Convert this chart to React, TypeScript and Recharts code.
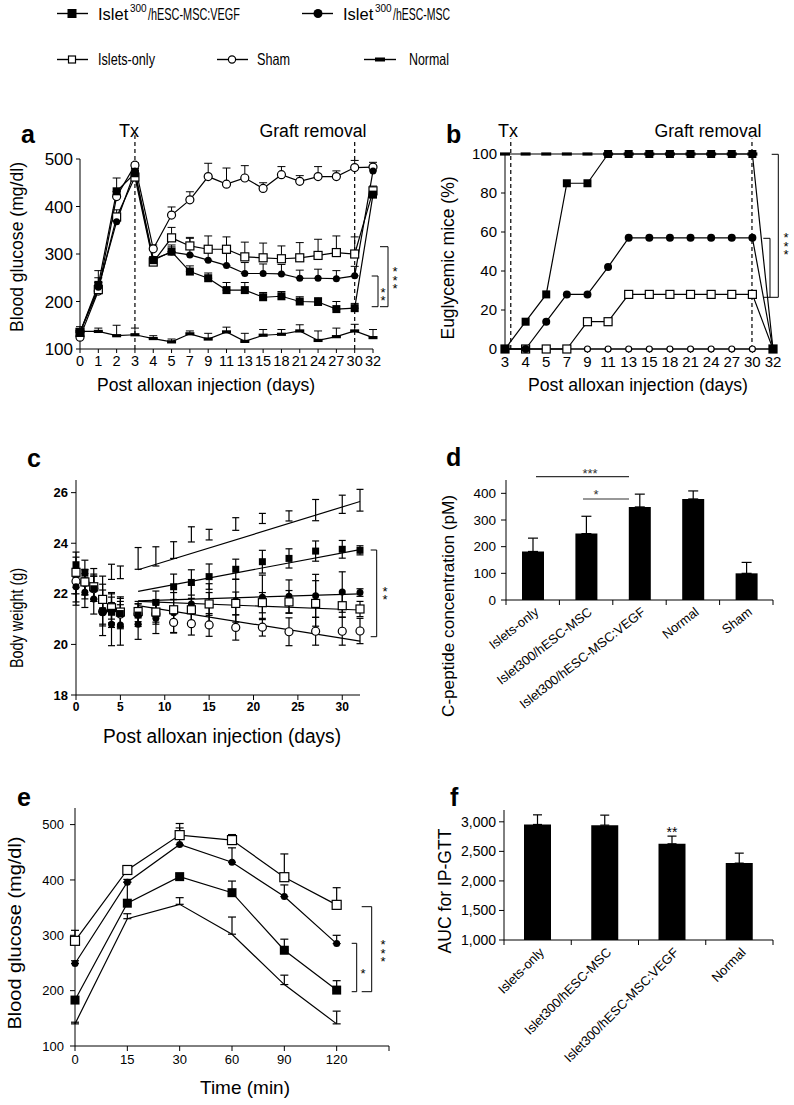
import React from 'react';
import {
  LineChart,
  Line,
  BarChart,
  Bar,
  ComposedChart,
  Scatter,
  XAxis,
  YAxis,
  ErrorBar,
  ReferenceLine
} from 'recharts';

const FONT = '"Liberation Sans", Arial, Helvetica, sans-serif';
const INK = '#000';

// ---- a: blood glucose after alloxan ----
const daysA = [0, 1, 2, 3, 4, 5, 7, 9, 11, 13, 15, 18, 21, 24, 27, 30, 32];
const vegfA = [135, 235, 432, 470, 287, 305, 263, 249, 224, 224, 209, 211, 200, 199, 184, 186, 425];
const vegfErrA = [5, 30, 28, 5, 5, 10, 12, 11, 16, 16, 10, 10, 10, 9, 16, 10, 8];
const mscA = [135, 230, 368, 475, 289, 304, 298, 287, 276, 259, 259, 258, 249, 249, 248, 254, 475];
const mscErrA = [5, 20, 10, 5, 5, 15, 35, 25, 25, 23, 20, 20, 17, 19, 17, 20, 10];
const isletsA = [135, 225, 378, 462, 283, 334, 317, 310, 310, 294, 292, 290, 292, 297, 303, 300, 433];
const isletsErrA = [5, 15, 15, 5, 5, 22, 18, 28, 26, 31, 31, 27, 32, 34, 35, 36, 10];
const shamA = [125, 222, 421, 487, 311, 382, 414, 463, 447, 460, 438, 467, 453, 463, 463, 482, 483];
const shamErrA = [5, 10, 10, 5, 8, 17, 17, 28, 34, 26, 12, 17, 12, 21, 12, 15, 10];
const normalA = [137, 137, 128, 130, 122, 115, 132, 121, 136, 116, 129, 131, 138, 118, 126, 138, 124];
const normalErrA = [10, 7, 22, 14, 6, 6, 6, 12, 10, 17, 12, 10, 13, 20, 18, 14, 17];

// ---- b: euglycemic mice ----
const daysB = [3, 4, 5, 7, 9, 11, 13, 15, 18, 21, 24, 27, 30, 32];
const vegfB = [0, 14, 28, 85, 85, 100, 100, 100, 100, 100, 100, 100, 100, 0];
const mscB = [0, 0, 14, 28, 28, 42, 57, 57, 57, 57, 57, 57, 57, 0];
const isletsB = [0, 0, 0, 0, 14, 14, 28, 28, 28, 28, 28, 28, 28, 0];
const shamB = [0, 0, 0, 0, 0, 0, 0, 0, 0, 0, 0, 0, 0, 0];
const normalB = [100, 100, 100, 100, 100, 100, 100, 100, 100, 100, 100, 100, 100, null];

// ---- c: body weight ----
const daysC = [0, 1, 2, 3, 4, 5, 7, 9, 11, 13, 15, 18, 21, 24, 27, 30, 32];
const vegfC = [23.15, 22.83, 22.2, 21.33, 21.27, 21.22, 21.16, 21.66, 22.28, 22.45, 22.68, 22.97, 23.27, 23.4, 23.69, 23.76, 23.72];
const vegfErrC = [0.5, 0.5, 0.5, 0.6, 0.6, 0.6, 0.45, 0.45, 0.5, 0.5, 0.5, 0.4, 0.45, 0.38, 0.4, 0.35, 0.18];
const mscC = [22.28, 22.06, 21.8, 21.25, 20.8, 20.77, 20.8, 21.03, 21.25, 21.6, 21.6, 21.73, 21.86, 21.9, 21.92, 22.07, 22.05];
const mscErrC = [0.6, 0.6, 0.6, 0.9, 0.85, 0.8, 0.6, 0.6, 0.8, 0.75, 0.8, 0.85, 0.88, 0.65, 0.85, 0.8, 0.15];
const isletsC = [22.85, 22.47, 22.28, 21.78, 21.45, 21.28, 21.3, 21.28, 21.37, 21.37, 21.6, 21.62, 21.65, 21.68, 21.62, 21.53, 21.4];
const isletsErrC = [0.6, 0.5, 0.5, 0.6, 0.6, 0.6, 0.4, 0.4, 0.4, 0.45, 0.45, 0.45, 0.4, 0.45, 0.9, 0.45, 0.3];
const shamC = [22.5, 22.45, 22.2, 21.3, 21.5, 21.2, 21.2, 21.2, 20.87, 20.82, 20.77, 20.67, 20.68, 20.5, 20.52, 20.52, 20.53];
const shamErrC = [0.5, 0.5, 0.5, 0.5, 0.5, 0.5, 0.4, 0.4, 0.4, 0.45, 0.45, 0.5, 0.35, 0.55, 0.55, 0.55, 0.5];
const normalC = [22.05, 22.3, 22.4, 22.0, 22.87, 22.85, 23.4, 23.48, 23.73, 24.35, 24.34, 24.76, 24.98, 25.08, 25.31, 25.54, 25.7];
const normalErrC = [0.5, 0.5, 0.6, 0.7, 0.3, 0.25, 0.43, 0.38, 0.33, 0.3, 0.21, 0.25, 0.2, 0.2, 0.42, 0.36, 0.43];
// trend lines (day 7 -> day 32)
const fitDays = [7, 32];
const vegfFit = [22.1, 23.75];
const mscFit = [21.72, 22.0];
const isletsFit = [21.7, 21.36];
const shamFit = [21.53, 20.13];
const normalFit = [22.95, 25.65];

// ---- d: C-peptide ----
const groupsD = ['Islets-only', 'Islet300/hESC-MSC', 'Islet300/hESC-MSC:VEGF', 'Normal', 'Sham'];
const cpeptide = [182, 249, 349, 379, 100];
const cpeptideErr = [50, 65, 48, 30, 41];

// ---- e: IP-GTT ----
const timesE = [0, 15, 30, 60, 90, 120];
const isletsE = [290, 418, 481, 472, 405, 355];
const isletsErrE = [19, 7, 21, 10, 42, 31];
const mscE = [249, 396, 464, 432, 370, 285];
const mscErrE = [5, 5, 30, 26, 21, 15];
const vegfE = [183, 358, 406, 377, 273, 201];
const vegfErrE = [5, 38, 5, 21, 20, 17];
const normalE = [140, 330, 356, 302, 211, 140];
const normalErrE = [3, 9, 12, 31, 17, 23];

// ---- f: AUC ----
const groupsF = ['Islets-only', 'Islet300/hESC-MSC', 'Islet300/hESC-MSC:VEGF', 'Normal'];
const auc = [2955, 2944, 2628, 2301];
const aucErr = [163, 169, 130, 169];

const up = (e: number) => [0, e];

const rowsA = daysA.map((day, i) => ({
  idx: i,
  day,
  vegf: vegfA[i], vegfErr: up(vegfErrA[i]),
  msc: mscA[i], mscErr: up(mscErrA[i]),
  islets: isletsA[i], isletsErr: up(isletsErrA[i]),
  sham: shamA[i], shamErr: up(shamErrA[i]),
  normal: normalA[i], normalErr: up(normalErrA[i])
}));

const rowsB = daysB.map((day, i) => ({
  idx: i,
  day,
  vegf: vegfB[i],
  msc: mscB[i],
  islets: isletsB[i],
  sham: shamB[i],
  normal: normalB[i]
}));

const pts = (vals: number[], errs: number[]) => daysC.map((x, i) => ({ x, y: vals[i], err: errs[i] }));
const fit = (vals: number[]) => fitDays.map((x, i) => ({ x, y: vals[i] }));

const rowsD = groupsD.map((name, i) => ({ name, value: cpeptide[i], err: up(cpeptideErr[i]) }));

const rowsE = timesE.map((t, i) => ({
  idx: i,
  t,
  islets: isletsE[i], isletsErr: up(isletsErrE[i]),
  msc: mscE[i], mscErr: up(mscErrE[i]),
  vegf: vegfE[i], vegfErr: up(vegfErrE[i]),
  normal: normalE[i], normalErr: up(normalErrE[i])
}));

const rowsF = groupsF.map((name, i) => ({ name, value: auc[i], err: up(aucErr[i]) }));

type Kind = 'fsq' | 'osq' | 'fci' | 'oci' | 'dash' | 'none';

const marker = (kind: Kind, s: number) => (p: any) => {
  const { cx, cy } = p;
  const key = `${kind}-${p.index}`;
  if (typeof cx !== 'number' || typeof cy !== 'number' || kind === 'none') return <g key={key} />;
  if (kind === 'fsq') return <rect key={key} x={cx - s / 2} y={cy - s / 2} width={s} height={s} fill={INK} />;
  if (kind === 'osq')
    return <rect key={key} x={cx - s / 2} y={cy - s / 2} width={s} height={s} fill="#fff" stroke={INK} strokeWidth={1.2} />;
  if (kind === 'fci') return <circle key={key} cx={cx} cy={cy} r={s / 2} fill={INK} />;
  if (kind === 'oci') return <circle key={key} cx={cx} cy={cy} r={s / 2} fill="#fff" stroke={INK} strokeWidth={1.2} />;
  return <rect key={key} x={cx - s / 2} y={cy - 1.6} width={s} height={3.2} fill={INK} />;
};

const tickStyle = (size: number, bold = false) => ({
  fontSize: size,
  fill: INK,
  fontFamily: FONT,
  fontWeight: bold ? 'bold' : 'normal'
});

// category axis like the original: tick marks between bars, slanted labels
const slantTick = (bandW: number, n: number, axisY: number, angle: number) => (p: any) => {
  const { x, payload, index } = p;
  return (
    <g key={`t-${index}`}>
      <line x1={x - bandW / 2} x2={x - bandW / 2} y1={axisY} y2={axisY + 5} stroke={INK} />
      {index === n - 1 && <line x1={x + bandW / 2} x2={x + bandW / 2} y1={axisY} y2={axisY + 5} stroke={INK} />}
      <text
        x={0}
        y={0}
        dy="0.35em"
        textAnchor="end"
        transform={`translate(${x + 4},${axisY + 10}) rotate(${angle})`}
        fontSize={13}
        fontFamily={FONT}
        fill={INK}
      >
        {payload.value}
      </text>
    </g>
  );
};

const box = (left: number, top: number): React.CSSProperties => ({ position: 'absolute', left, top });

const PanelA = () => (
  <div style={box(0, 100)}>
    <LineChart width={400} height={290} data={rowsA} margin={{ top: 59, right: 27, bottom: 21, left: 40 }}>
      <XAxis
        dataKey="idx"
        type="number"
        domain={[0, daysA.length - 1]}
        ticks={daysA.map((_, i) => i)}
        tickFormatter={(v: number) => String(daysA[v])}
        interval={0}
        height={20}
        tickSize={4}
        tickMargin={3}
        stroke={INK}
        tick={tickStyle(14.5)}
      />
      <YAxis domain={[100, 500]} ticks={[100, 200, 300, 400, 500]} width={40} tickSize={4} tickMargin={3} stroke={INK} tick={tickStyle(17)} />
      <ReferenceLine segment={[{ x: 3, y: 100 }, { x: 3, y: 550 }]} stroke={INK} strokeWidth={1.2} strokeDasharray="4 3" ifOverflow="visible" />
      <ReferenceLine segment={[{ x: 15, y: 100 }, { x: 15, y: 540 }]} stroke={INK} strokeWidth={1.2} strokeDasharray="4 3" ifOverflow="visible" />
      <Line dataKey="normal" stroke={INK} strokeWidth={1.2} dot={marker('dash', 9)} isAnimationActive={false}>
        <ErrorBar dataKey="normalErr" direction="y" width={4} stroke={INK} strokeWidth={1} />
      </Line>
      <Line dataKey="sham" stroke={INK} strokeWidth={1.2} dot={marker('oci', 8)} isAnimationActive={false}>
        <ErrorBar dataKey="shamErr" direction="y" width={4} stroke={INK} strokeWidth={1} />
      </Line>
      <Line dataKey="islets" stroke={INK} strokeWidth={1.2} dot={marker('osq', 8)} isAnimationActive={false}>
        <ErrorBar dataKey="isletsErr" direction="y" width={4} stroke={INK} strokeWidth={1} />
      </Line>
      <Line dataKey="msc" stroke={INK} strokeWidth={1.2} dot={marker('fci', 7)} isAnimationActive={false}>
        <ErrorBar dataKey="mscErr" direction="y" width={4} stroke={INK} strokeWidth={1} />
      </Line>
      <Line dataKey="vegf" stroke={INK} strokeWidth={1.2} dot={marker('fsq', 8)} isAnimationActive={false}>
        <ErrorBar dataKey="vegfErr" direction="y" width={4} stroke={INK} strokeWidth={1} />
      </Line>
    </LineChart>
  </div>
);

const PanelB = () => (
  <div style={box(400, 100)}>
    <LineChart width={394} height={290} data={rowsB} margin={{ top: 54, right: 21, bottom: 21, left: 60 }}>
      <XAxis
        dataKey="idx"
        type="number"
        domain={[0, daysB.length - 1]}
        ticks={daysB.map((_, i) => i)}
        tickFormatter={(v: number) => String(daysB[v])}
        interval={0}
        height={20}
        tickSize={4}
        tickMargin={3}
        stroke={INK}
        tick={tickStyle(15)}
      />
      <YAxis domain={[0, 100]} ticks={[0, 20, 40, 60, 80, 100]} width={45} tickSize={4} tickMargin={4} stroke={INK} tick={tickStyle(15)} />
      <ReferenceLine segment={[{ x: 0.28, y: 0 }, { x: 0.28, y: 108 }]} stroke={INK} strokeWidth={1.2} strokeDasharray="4 3" ifOverflow="visible" />
      <ReferenceLine segment={[{ x: 11.98, y: 0 }, { x: 11.98, y: 108 }]} stroke={INK} strokeWidth={1.2} strokeDasharray="4 3" ifOverflow="visible" />
      <Line dataKey="normal" stroke={INK} strokeWidth={1.2} dot={marker('dash', 10)} isAnimationActive={false} />
      <Line dataKey="sham" stroke={INK} strokeWidth={1.2} dot={marker('oci', 6)} isAnimationActive={false} />
      <Line dataKey="islets" stroke={INK} strokeWidth={1.2} dot={marker('osq', 8)} isAnimationActive={false} />
      <Line dataKey="vegf" stroke={INK} strokeWidth={1.2} dot={marker('fsq', 8)} isAnimationActive={false} />
      <Line dataKey="msc" stroke={INK} strokeWidth={1.2} dot={marker('fci', 8)} isAnimationActive={false} />
    </LineChart>
  </div>
);

const PanelC = () => (
  <div style={box(0, 440)}>
    <ComposedChart width={400} height={290} margin={{ top: 40, right: 40, bottom: 15, left: 40 }}>
      <XAxis
        dataKey="x"
        type="number"
        domain={[0, 32]}
        ticks={[0, 5, 10, 15, 20, 25, 30]}
        interval={0}
        height={20}
        tickSize={5}
        tickMargin={2}
        stroke={INK}
        tick={tickStyle(12, true)}
      />
      <YAxis type="number" domain={[18, 26.5]} ticks={[18, 20, 22, 24, 26]} width={36} tickSize={5} tickMargin={3} stroke={INK} tick={tickStyle(13, true)} />
      <Scatter data={pts(normalC, normalErrC)} dataKey="y" shape={marker('none', 0)} isAnimationActive={false}>
        <ErrorBar dataKey="err" direction="y" width={3.5} stroke={INK} strokeWidth={1.2} />
      </Scatter>
      <Scatter data={pts(shamC, shamErrC)} dataKey="y" shape={marker('oci', 8)} isAnimationActive={false}>
        <ErrorBar dataKey="err" direction="y" width={3.5} stroke={INK} strokeWidth={1.2} />
      </Scatter>
      <Scatter data={pts(mscC, mscErrC)} dataKey="y" shape={marker('fci', 7)} isAnimationActive={false}>
        <ErrorBar dataKey="err" direction="y" width={3.5} stroke={INK} strokeWidth={1.2} />
      </Scatter>
      <Scatter data={pts(isletsC, isletsErrC)} dataKey="y" shape={marker('osq', 8)} isAnimationActive={false}>
        <ErrorBar dataKey="err" direction="y" width={3.5} stroke={INK} strokeWidth={1.2} />
      </Scatter>
      <Scatter data={pts(vegfC, vegfErrC)} dataKey="y" shape={marker('fsq', 7)} isAnimationActive={false}>
        <ErrorBar dataKey="err" direction="y" width={3.5} stroke={INK} strokeWidth={1.2} />
      </Scatter>
      <Line data={fit(normalFit)} dataKey="y" stroke={INK} strokeWidth={1.2} dot={false} isAnimationActive={false} />
      <Line data={fit(vegfFit)} dataKey="y" stroke={INK} strokeWidth={1.2} dot={false} isAnimationActive={false} />
      <Line data={fit(mscFit)} dataKey="y" stroke={INK} strokeWidth={1.2} dot={false} isAnimationActive={false} />
      <Line data={fit(isletsFit)} dataKey="y" stroke={INK} strokeWidth={1.2} dot={false} isAnimationActive={false} />
      <Line data={fit(shamFit)} dataKey="y" stroke={INK} strokeWidth={1.2} dot={false} isAnimationActive={false} />
    </ComposedChart>
  </div>
);

const PanelD = () => (
  <div style={box(400, 440)}>
    <BarChart width={394} height={300} data={rowsD} margin={{ top: 40, right: 21, bottom: 40, left: 55 }}>
      <XAxis dataKey="name" interval={0} height={100} tickLine={false} tickSize={5} tickMargin={0} stroke={INK} tick={slantTick(267 / 5, 5, 160, -38)} />
      <YAxis domain={[0, 450]} ticks={[0, 100, 200, 300, 400]} width={51} tickSize={5} tickMargin={5} stroke={INK} tick={tickStyle(13.5)} />
      <Bar dataKey="value" fill={INK} barSize={22} isAnimationActive={false}>
        <ErrorBar dataKey="err" direction="y" width={5} stroke={INK} strokeWidth={1.2} />
      </Bar>
    </BarChart>
  </div>
);

const PanelE = () => (
  <div style={box(0, 780)}>
    <LineChart width={400} height={320} data={rowsE} margin={{ top: 28, right: 11, bottom: 29, left: 35 }}>
      <XAxis
        dataKey="idx"
        type="number"
        domain={[0, timesE.length]}
        ticks={[...timesE.map((_, i) => i), timesE.length]}
        tickFormatter={(v: number) => (v < timesE.length ? String(timesE[v]) : '')}
        interval={0}
        height={25}
        tickSize={5}
        tickMargin={4}
        stroke={INK}
        tick={tickStyle(13)}
      />
      <YAxis domain={[100, 530]} ticks={[100, 200, 300, 400, 500]} width={40} tickSize={5} tickMargin={6} stroke={INK} tick={tickStyle(13)} />
      <Line dataKey="normal" stroke={INK} strokeWidth={1.2} dot={false} isAnimationActive={false}>
        <ErrorBar dataKey="normalErr" direction="y" width={4} stroke={INK} strokeWidth={1.2} />
      </Line>
      <Line dataKey="vegf" stroke={INK} strokeWidth={1.2} dot={marker('fsq', 9)} isAnimationActive={false}>
        <ErrorBar dataKey="vegfErr" direction="y" width={4} stroke={INK} strokeWidth={1.2} />
      </Line>
      <Line dataKey="msc" stroke={INK} strokeWidth={1.2} dot={marker('fci', 7)} isAnimationActive={false}>
        <ErrorBar dataKey="mscErr" direction="y" width={4} stroke={INK} strokeWidth={1.2} />
      </Line>
      <Line dataKey="islets" stroke={INK} strokeWidth={1.2} dot={marker('osq', 9)} isAnimationActive={false}>
        <ErrorBar dataKey="isletsErr" direction="y" width={4} stroke={INK} strokeWidth={1.2} />
      </Line>
    </LineChart>
  </div>
);

const PanelF = () => (
  <div style={box(400, 780)}>
    <BarChart width={394} height={325} data={rowsF} margin={{ top: 30, right: 21, bottom: 65, left: 50 }}>
      <XAxis dataKey="name" interval={0} height={100} tickLine={false} tickSize={5} tickMargin={0} stroke={INK} tick={slantTick(269 / 4, 4, 160, -45)} />
      <YAxis
        domain={[1000, 3200]}
        ticks={[1000, 1500, 2000, 2500, 3000]}
        tickFormatter={(v: number) => v.toLocaleString('en-US')}
        width={54}
        tickSize={5}
        tickMargin={3}
        stroke={INK}
        tick={tickStyle(14)}
      />
      <Bar dataKey="value" fill={INK} barSize={27} isAnimationActive={false}>
        <ErrorBar dataKey="err" direction="y" width={4.5} stroke={INK} strokeWidth={1.2} />
      </Bar>
    </BarChart>
  </div>
);

const T = (props: {
  x: number;
  y: number;
  size: number;
  children: React.ReactNode;
  anchor?: 'start' | 'middle' | 'end';
  rot?: number;
  bold?: boolean;
  len?: number;
  dy?: string;
  fill?: string;
}) => {
  const { x, y, size, children, anchor = 'start', rot, bold, len, dy, fill = INK } = props;
  return (
    <text
      x={x}
      y={y}
      dy={dy}
      fontSize={size}
      fontFamily={FONT}
      fontWeight={bold ? 'bold' : 'normal'}
      textAnchor={anchor}
      fill={fill}
      transform={rot ? `rotate(${rot} ${x} ${y})` : undefined}
      textLength={len}
      lengthAdjust={len ? 'spacingAndGlyphs' : undefined}
    >
      {children}
    </text>
  );
};

// asterisks written top-to-bottom in one text, centred on (x, y)
const Stars = ({ x, y, n, size = 13 }: { x: number; y: number; n: number; size?: number }) => (
  <text
    x={x}
    y={y}
    fontSize={size}
    fontFamily={FONT}
    fill={INK}
    textAnchor="middle"
    letterSpacing={-size * 0.5}
    style={{ writingMode: 'vertical-rl', textOrientation: 'upright' } as React.CSSProperties}
  >
    {'*'.repeat(n)}
  </text>
);

const Overlay = () => (
  <svg width={794} height={1105} style={{ position: 'absolute', left: 0, top: 0, pointerEvents: 'none' }}>
    {/* legend */}
    <g stroke={INK} strokeWidth={1.4}>
      <line x1={57} x2={88} y1={13.5} y2={13.5} />
      <line x1={302} x2={333} y1={13.5} y2={13.5} />
      <line x1={57} x2={88} y1={59.5} y2={59.5} />
      <line x1={217} x2={248} y1={59.5} y2={59.5} />
      <line x1={364} x2={396} y1={59.5} y2={59.5} />
    </g>
    <rect x={67.5} y={9} width={9} height={9} fill={INK} />
    <circle cx={318} cy={13.5} r={4.5} fill={INK} />
    <rect x={68.5} y={56} width={7} height={7} fill="#fff" stroke={INK} strokeWidth={1.2} />
    <circle cx={232} cy={59.5} r={3.6} fill="#fff" stroke={INK} strokeWidth={1.2} />
    <rect x={375} y={57.5} width={10} height={4} fill={INK} />
    <T x={98} y={20} size={16.5}>Islet</T>
    <T x={130} y={12} size={10}>300</T>
    <T x={148} y={20} size={16.5} len={92}>/hESC-MSC:VEGF</T>
    <T x={343} y={20} size={16.5}>Islet</T>
    <T x={375} y={12} size={10}>300</T>
    <T x={393} y={20} size={16.5} len={57}>/hESC-MSC</T>
    <T x={98} y={65} size={16.5} len={57}>Islets-only</T>
    <T x={257} y={65} size={16.5} len={33}>Sham</T>
    <T x={409} y={65} size={16.5} len={40}>Normal</T>

    {/* panel letters */}
    <T x={21} y={143} size={25} bold>a</T>
    <T x={446} y={143} size={25} bold>b</T>
    <T x={27} y={467} size={25} bold>c</T>
    <T x={446} y={466} size={25} bold>d</T>
    <T x={17} y={806} size={25} bold>e</T>
    <T x={450} y={806} size={25} bold>f</T>

    {/* event labels */}
    <T x={129} y={137} size={18} anchor="middle">Tx</T>
    <T x={313} y={137} size={18} anchor="middle" len={107}>Graft removal</T>
    <T x={508} y={137} size={18} anchor="middle">Tx</T>
    <T x={708} y={137} size={18} anchor="middle" len={107}>Graft removal</T>

    {/* axis titles */}
    <T x={206} y={391} size={17.5} anchor="middle" len={218}>Post alloxan injection (days)</T>
    <T x={638} y={391} size={17.5} anchor="middle" len={220}>Post alloxan injection (days)</T>
    <T x={222} y={743} size={20} anchor="middle" len={238}>Post alloxan injection (days)</T>
    <T x={245} y={1094} size={19} anchor="middle" len={90}>Time (min)</T>
    <T x={17} y={247} size={17.5} anchor="middle" rot={-90} dy="0.35em" len={170}>Blood glucose (mg/dl)</T>
    <T x={448} y={258} size={17.5} anchor="middle" rot={-90} dy="0.35em" len={163}>Euglycemic mice (%)</T>
    <T x={16} y={618} size={19} anchor="middle" rot={-90} dy="0.35em" len={100}>Body weight (g)</T>
    <T x={448} y={606} size={17} anchor="middle" rot={-90} dy="0.35em" len={222}>C-peptide concentration (pM)</T>
    <T x={15} y={933} size={18.5} anchor="middle" rot={-90} dy="0.35em" len={193}>Blood glucose (mg/dl)</T>
    <T x={445} y={891} size={18.5} anchor="middle" rot={-90} dy="0.35em" len={125}>AUC for IP-GTT</T>

    {/* significance brackets */}
    <g fill="none" stroke={INK} strokeWidth={1}>
      <path d="M380,246.7 H388 V306.7 H380" />
      <path d="M371.7,276 H378 V306.7 H371.7" />
      <path d="M771.7,154.3 H778.3 V297.3 H763.3" />
      <path d="M763.3,238.3 H770 V297.3" />
      <path d="M370.7,550 H376.7 V636.7 H370.7" />
      <path d="M361.7,906.7 H371.7 V991.7 H361.7" />
      <path d="M351.7,943.3 H356.7 V991.7 H351.7" />
    </g>
    <g stroke="#333" strokeWidth={1.2}>
      <line x1={536} x2={629} y1={476.7} y2={476.7} />
      <line x1={583} x2={629} y1={499} y2={499} />
    </g>
    <Stars x={395} y={277} n={3} />
    <Stars x={383} y={293} n={2} />
    <Stars x={786} y={243} n={3} />
    <Stars x={385} y={592} n={2} />
    <Stars x={363} y={970} n={1} />
    <Stars x={383} y={950} n={3} />
    <T x={590} y={478} size={13} anchor="middle" fill="#333">***</T>
    <T x={596} y={499} size={13} anchor="middle" fill="#333">*</T>
    <T x={672} y={837} size={14} anchor="middle">**</T>
  </svg>
);

export default function App() {
  return (
    <div style={{ position: 'absolute', left: 0, top: 0, width: 794, height: 1105, background: '#fff' }}>
      <PanelA />
      <PanelB />
      <PanelC />
      <PanelD />
      <PanelE />
      <PanelF />
      <Overlay />
    </div>
  );
}
